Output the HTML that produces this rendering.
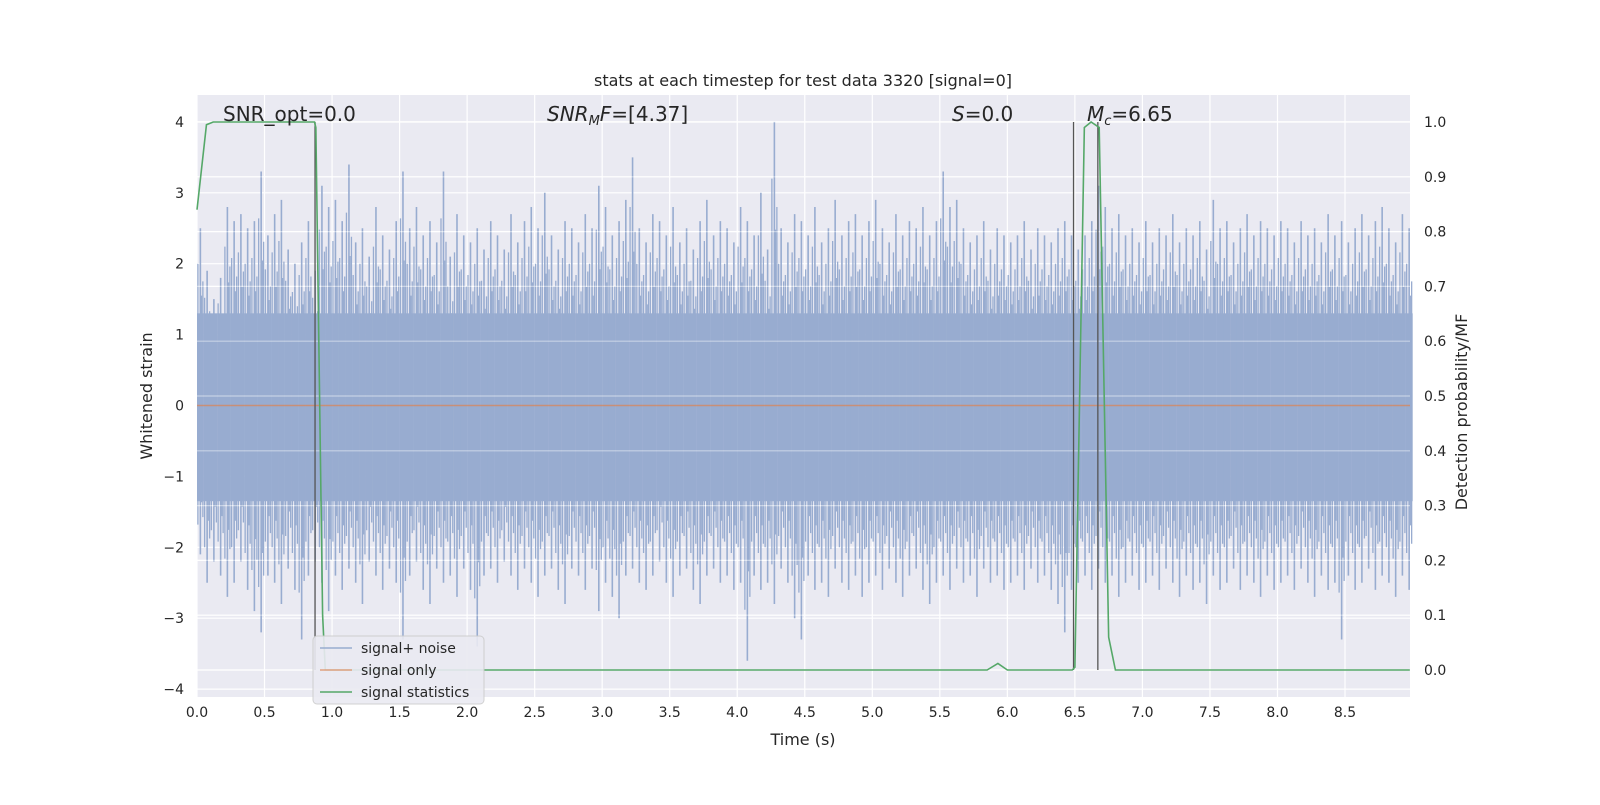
<!DOCTYPE html>
<html><head><meta charset="utf-8"><style>
body{margin:0;background:#fff;width:1600px;height:800px;overflow:hidden}
svg{font-family:"DejaVu Sans","Liberation Sans",sans-serif}
</style></head><body>
<svg id="chart" width="1600" height="800"></svg>
<script>
const upper=[2.5,1.9,1.5,1.8,2.8,2.6,2.7,2.5,2.6,3.3,2.4,2.7,2.9,2.2,2.0,2.3,2.6,1.9,3.1,2.8,
2.9,2.6,3.4,2.3,2.5,2.1,2.8,2.4,2.2,2.6,3.3,2.5,2.8,2.4,2.6,2.3,3.3,2.1,2.7,2.4,
2.3,2.5,2.2,2.6,2.4,2.2,2.7,2.3,2.6,2.8,2.5,3.0,2.4,2.2,2.6,2.5,2.3,2.7,2.5,3.1,
2.8,2.4,2.6,2.9,3.5,2.5,2.3,2.7,2.6,2.4,2.8,2.3,2.5,2.2,2.6,2.9,2.4,2.6,2.5,2.3,
2.8,2.6,2.4,3.0,2.2,4.0,2.5,2.3,2.7,2.6,2.4,2.8,2.3,2.5,2.9,2.4,2.6,2.7,2.4,2.6,
2.9,2.5,2.3,2.7,2.4,2.6,2.5,2.8,2.4,2.6,3.3,2.8,2.9,2.5,2.3,2.4,2.6,2.2,2.5,2.4,
2.3,2.4,2.6,2.2,2.5,2.4,2.3,2.5,2.6,2.4,2.2,2.4,2.6,3.1,2.8,2.5,2.7,2.4,2.5,2.3,
2.6,2.3,2.5,2.4,2.7,2.3,2.5,2.4,2.6,2.2,2.9,2.5,2.6,2.3,2.5,2.7,2.4,2.6,2.5,2.4,
2.6,2.5,2.3,2.6,2.4,2.5,2.3,2.7,2.4,2.6,2.3,2.5,2.7,2.4,2.6,2.8,2.5,2.3,2.7,2.5];
const lower=[-2.1,-2.5,-2.2,-2.4,-2.7,-2.5,-2.2,-2.6,-2.9,-3.2,-2.4,-2.5,-2.8,-2.3,-2.6,-3.3,-2.4,-2.2,-2.5,-2.9,
-2.4,-2.6,-2.3,-2.5,-2.8,-2.2,-2.4,-2.6,-2.3,-2.5,-3.3,-2.4,-2.2,-2.6,-2.8,-2.3,-2.5,-2.4,-2.7,-2.3,
-2.6,-3.4,-2.4,-2.3,-2.5,-2.2,-2.4,-2.6,-2.3,-2.5,-2.7,-2.4,-2.3,-2.6,-2.8,-2.3,-2.4,-2.6,-2.3,-2.9,
-2.5,-2.7,-3.0,-2.4,-2.3,-2.5,-2.6,-2.4,-2.2,-2.5,-2.7,-2.4,-2.3,-2.6,-2.8,-2.4,-2.3,-2.5,-2.4,-2.6,
-2.5,-3.6,-2.4,-2.6,-2.5,-2.8,-2.3,-2.5,-3.0,-3.3,-2.4,-2.6,-2.5,-2.7,-2.3,-2.5,-2.6,-2.4,-2.7,-2.5,
-2.4,-2.6,-2.3,-2.5,-2.7,-2.4,-2.3,-2.6,-2.8,-2.5,-2.4,-2.6,-2.3,-2.5,-2.4,-2.7,-2.3,-2.5,-2.4,-2.6,
-2.5,-2.4,-2.6,-2.3,-2.5,-2.4,-2.6,-2.8,-3.2,-2.6,-2.5,-2.4,-2.6,-2.3,-2.5,-2.4,-2.7,-2.5,-2.4,-2.6,
-2.5,-2.4,-2.6,-2.3,-2.5,-2.7,-2.4,-2.6,-2.5,-2.8,-2.4,-2.6,-2.5,-2.3,-2.6,-2.4,-2.5,-2.7,-2.4,-2.6,
-2.5,-2.4,-2.6,-2.3,-2.5,-2.7,-2.4,-2.6,-2.5,-3.3,-2.4,-2.6,-2.5,-2.3,-2.6,-2.4,-2.5,-2.7,-2.4,-2.6];
const statT=[0,0.07,0.12,0.5,0.87,0.88,0.93,0.95,1.0,5.85,5.93,6.0,6.48,6.5,6.57,6.62,6.68,6.75,6.8,8.98];
const statV=[0.84,0.995,1.0,1.0,1.0,0.99,0.1,0.0,0.0,0.0,0.012,0.0,0.0,0.005,0.99,1.0,0.99,0.06,0.0,0.0];
const vlines=[0.874,6.49,6.67];
const xTicks=[0,0.5,1,1.5,2,2.5,3,3.5,4,4.5,5,5.5,6,6.5,7,7.5,8,8.5];
const yTicks=[-4,-3,-2,-1,0,1,2,3,4];
const rTicks=[0,0.1,0.2,0.3,0.4,0.5,0.6,0.7,0.8,0.9,1.0];
const L=197,R=1410,T=95,B=697;
const X=t=>L+t*135.06, Y=v=>405.5-v*70.9, YR=v=>670-v*548;
const svg=document.getElementById('chart');const NS='http://www.w3.org/2000/svg';
function mk(tag,a,p){const e=document.createElementNS(NS,tag);for(const k in a)e.setAttribute(k,a[k]);(p||svg).appendChild(e);return e;}
const bg=mk('rect',{x:L,y:T,width:R-L,height:B-T,fill:'#eaeaf2'});


const grid=mk('g',{stroke:'#fff','stroke-width':1.2});


xTicks.forEach(t=>mk('line',{x1:X(t),x2:X(t),y1:T,y2:B},grid));
yTicks.forEach(v=>mk('line',{x1:L,x2:R,y1:Y(v),y2:Y(v)},grid));
rTicks.forEach(v=>mk('line',{x1:L,x2:R,y1:YR(v),y2:YR(v)},grid));
const noise=mk('g',{stroke:'rgb(152,172,208)'});


upper.forEach((u,i)=>{const lo=lower[i];const x=X(i*0.05+0.025);
 mk('rect',{x:X(i*0.05),y:Y(1.3),width:6.9,height:Y(-1.35)-Y(1.3),fill:'rgb(152,172,208)',stroke:'none'},noise);
 mk('line',{x1:x,x2:x,y1:Y(u),y2:Y(lo),'stroke-width':1.6},noise);
 mk('line',{x1:x-2.5,x2:x-2.5,y1:Y(u*0.8),y2:Y(lo*0.8),'stroke-width':1.3},noise);
 mk('line',{x1:x+2.5,x2:x+2.5,y1:Y(u*0.7),y2:Y(lo*0.75),'stroke-width':1.3},noise);
 mk('line',{x1:x+1.2,x2:x+1.2,y1:Y(u*0.62),y2:Y(lo*0.65),'stroke-width':1.2},noise);
});
const grid2=mk('g',{stroke:'#fff','stroke-width':1.2,opacity:0.45});


rTicks.forEach(v=>mk('line',{x1:L,x2:R,y1:YR(v),y2:YR(v)},grid2));
const sig=mk('line',{x1:L,x2:R,y1:Y(0),y2:Y(0),stroke:'#dd8452','stroke-width':1.5,opacity:0.7});


vlines.forEach(t=>{const l=mk('line',{x1:X(t),x2:X(t),y1:YR(1),y2:YR(0),stroke:'#555','stroke-width':1.3});

});
const st=mk('polyline',{points:statT.map((t,i)=>X(t)+','+YR(statV[i])).join(' '),fill:'none',stroke:'#55a868','stroke-width':1.6});


function txt(x,y,s,a,name){const e=mk('text',Object.assign({x:x,y:y,fill:'#262626','font-size':14},a||{}));e.textContent=s;

return e;}
xTicks.forEach(t=>txt(X(t),717,t.toFixed(1),{'text-anchor':'middle'},'x-tick-label'));
yTicks.forEach(v=>txt(184,Y(v)+5,v<0?'\u2212'+(-v):String(v),{'text-anchor':'end'},'y-tick-label'));
rTicks.forEach(v=>txt(1424,YR(v)+5,v.toFixed(1),{},'right-tick-label'));
txt(803,745,'Time (s)',{'text-anchor':'middle','font-size':16},'x-axis-title');
txt(152,396,'Whitened strain',{'text-anchor':'middle','font-size':16,transform:'rotate(-90 152 396)'},'y-axis-title');
txt(1467,412,'Detection probability/MF',{'text-anchor':'middle','font-size':16,transform:'rotate(-90 1467 412)'},'right-axis-title');
txt(803,86,'stats at each timestep for test data 3320 [signal=0]',{'text-anchor':'middle','font-size':16},'chart-title');
txt(223,121,'SNR_opt=0.0',{'font-size':20},'snr-opt-annotation');
const a2=txt(547,121,'',{'font-size':20},'snr-mf-annotation');a2.innerHTML='<tspan font-style="italic">SNR</tspan><tspan font-style="italic" font-size="13" dy="4">M</tspan><tspan font-style="italic" dy="-4">F</tspan>=[4.37]';
const a3=txt(952,121,'',{'font-size':20},'s-annotation');a3.innerHTML='<tspan font-style="italic">S</tspan>=0.0';
const a4=txt(1087,121,'',{'font-size':20},'mc-annotation');a4.innerHTML='<tspan font-style="italic">M</tspan><tspan font-style="italic" font-size="13" dy="4">c</tspan><tspan dy="-4">=6.65</tspan>';
const lg=mk('g',{});


mk('rect',{x:313,y:636,width:171,height:68,rx:4,fill:'#eaeaf2',stroke:'#ccc',opacity:0.9},lg);
[['signal+ noise','rgb(152,172,208)'],['signal only','#dd8452'],['signal statistics','#55a868']].forEach((e,i)=>{
 const y=648+i*22;
 const g=mk('g',{},lg);
 
 
 mk('line',{x1:320,x2:352,y1:y,y2:y,stroke:e[1],'stroke-width':1.6,opacity:i==1?0.7:1},g);
 const t=mk('text',{x:361,y:y+5,'font-size':14,fill:'#262626'},g);t.textContent=e[0];
});
</script>
</body></html>
